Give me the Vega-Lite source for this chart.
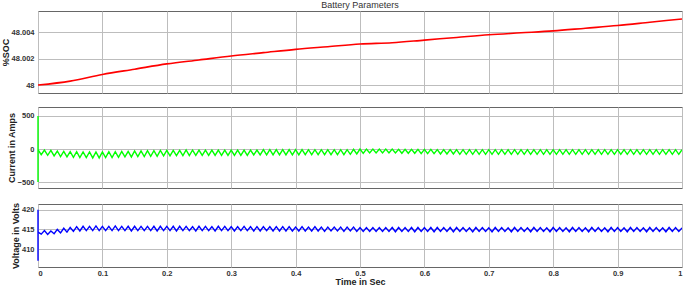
{
"$schema": "https://vega.github.io/schema/vega-lite/v6.json",
"padding": {"left": 0, "top": 0, "right": 2, "bottom": 0},
"background": "white",
"spacing": 12,
"config": {
 "font": "Liberation Sans",
 "view": {"stroke": "#666", "strokeWidth": 1},
 "axis": {"labelFont": "Liberation Sans", "labelFontSize": 7.5, "labelFontWeight": "bold", "labelColor": "#333", "titleFont": "Liberation Sans", "titleFontSize": 9, "titleFontWeight": "bold", "titleColor": "#222", "gridColor": "#bdbdbd", "gridOpacity": 1, "ticks": false, "domain": false, "labelPadding": 4, "titlePadding": 1, "labelOverlap": false},
 "title": {"font": "Liberation Sans", "fontSize": 9, "fontWeight": "normal", "color": "#333", "offset": 1}
},
"datasets": {
 "soc": [
  {"t":0,"s":48.0},{"t":0.05,"s":48.0003},{"t":0.1,"s":48.0008},{"t":0.15,"s":48.0012},{"t":0.2,"s":48.0016},{"t":0.25,"s":48.0019},{"t":0.3,"s":48.0022},{"t":0.35,"s":48.00245},{"t":0.4,"s":48.0027},{"t":0.45,"s":48.0029},{"t":0.5,"s":48.0031},{"t":0.55,"s":48.0032},{"t":0.6,"s":48.0034},{"t":0.65,"s":48.0036},{"t":0.7,"s":48.0038},{"t":0.75,"s":48.00395},{"t":0.8,"s":48.0041},{"t":0.85,"s":48.0043},{"t":0.9,"s":48.0045},{"t":0.95,"s":48.00475},{"t":1,"s":48.005}
 ],
 "spk": [{"t":0,"i1":500,"i2":-500,"v1":420,"v2":407}],
 "sig": [
  {"t":0,"i":-10,"v":414.3},{"t":0.005,"i":-85,"v":413.8},{"t":0.01,"i":-15,"v":414.7},{"t":0.015,"i":-95,"v":413.7},{"t":0.02,"i":-20,"v":414.6},{"t":0.025,"i":-105,"v":413.9},{"t":0.03,"i":-30,"v":415.0},{"t":0.035,"i":-115,"v":414.1},{"t":0.04,"i":-35,"v":415.3},{"t":0.045,"i":-120,"v":414.3},
  {"t":0.05,"i":-40,"v":415.5},{"t":0.055,"i":-125,"v":414.5},{"t":0.06,"i":-40,"v":415.7},{"t":0.065,"i":-130,"v":414.6},{"t":0.07,"i":-45,"v":415.8},{"t":0.075,"i":-130,"v":414.7},{"t":0.08,"i":-45,"v":415.8},{"t":0.085,"i":-135,"v":414.7},{"t":0.09,"i":-45,"v":415.9},{"t":0.095,"i":-135,"v":414.7},
  {"t":0.1,"i":-45,"v":415.8},{"t":0.105,"i":-130,"v":414.7},{"t":0.11,"i":-40,"v":415.8},{"t":0.115,"i":-130,"v":414.7},{"t":0.12,"i":-40,"v":415.9},{"t":0.125,"i":-125,"v":414.7},{"t":0.13,"i":-35,"v":415.8},{"t":0.135,"i":-120,"v":414.7},{"t":0.14,"i":-35,"v":415.8},{"t":0.145,"i":-120,"v":414.6},
  {"t":0.15,"i":-30,"v":415.8},{"t":0.155,"i":-115,"v":414.7},{"t":0.16,"i":-30,"v":415.8},{"t":0.165,"i":-115,"v":414.7},{"t":0.17,"i":-25,"v":415.8},{"t":0.175,"i":-110,"v":414.7},{"t":0.18,"i":-25,"v":415.8},{"t":0.185,"i":-110,"v":414.6},{"t":0.19,"i":-20,"v":415.8},{"t":0.195,"i":-105,"v":414.7},
  {"t":0.2,"i":-20,"v":415.8},{"t":0.205,"i":-105,"v":414.7},{"t":0.21,"i":-20,"v":415.8},{"t":0.215,"i":-100,"v":414.6},{"t":0.22,"i":-20,"v":415.8},{"t":0.225,"i":-100,"v":414.7},{"t":0.23,"i":-15,"v":415.8},{"t":0.235,"i":-100,"v":414.7},{"t":0.24,"i":-15,"v":415.7},{"t":0.245,"i":-95,"v":414.6},
  {"t":0.25,"i":-15,"v":415.8},{"t":0.255,"i":-95,"v":414.7},{"t":0.26,"i":-15,"v":415.8},{"t":0.265,"i":-95,"v":414.7},{"t":0.27,"i":-15,"v":415.7},{"t":0.275,"i":-95,"v":414.6},{"t":0.28,"i":-15,"v":415.8},{"t":0.285,"i":-95,"v":414.7},{"t":0.29,"i":-15,"v":415.8},{"t":0.295,"i":-95,"v":414.7},
  {"t":0.3,"i":-15,"v":415.7},{"t":0.305,"i":-95,"v":414.6},{"t":0.31,"i":-15,"v":415.7},{"t":0.315,"i":-95,"v":414.7},{"t":0.32,"i":-15,"v":415.8},{"t":0.325,"i":-95,"v":414.7},{"t":0.33,"i":-15,"v":415.7},{"t":0.335,"i":-90,"v":414.6},{"t":0.34,"i":-15,"v":415.7},{"t":0.345,"i":-90,"v":414.6},
  {"t":0.35,"i":-10,"v":415.7},{"t":0.355,"i":-90,"v":414.7},{"t":0.36,"i":-10,"v":415.7},{"t":0.365,"i":-90,"v":414.6},{"t":0.37,"i":-10,"v":415.7},{"t":0.375,"i":-90,"v":414.6},{"t":0.38,"i":-10,"v":415.7},{"t":0.385,"i":-90,"v":414.6},{"t":0.39,"i":-10,"v":415.7},{"t":0.395,"i":-90,"v":414.6},
  {"t":0.4,"i":-10,"v":415.6},{"t":0.405,"i":-90,"v":414.6},{"t":0.41,"i":-10,"v":415.7},{"t":0.415,"i":-85,"v":414.6},{"t":0.42,"i":-10,"v":415.6},{"t":0.425,"i":-85,"v":414.6},{"t":0.43,"i":-10,"v":415.7},{"t":0.435,"i":-85,"v":414.6},{"t":0.44,"i":-10,"v":415.6},{"t":0.445,"i":-85,"v":414.5},
  {"t":0.45,"i":-10,"v":415.6},{"t":0.455,"i":-85,"v":414.6},{"t":0.46,"i":-10,"v":415.6},{"t":0.465,"i":-85,"v":414.6},{"t":0.47,"i":-10,"v":415.6},{"t":0.475,"i":-85,"v":414.5},{"t":0.48,"i":-10,"v":415.6},{"t":0.485,"i":-80,"v":414.6},{"t":0.49,"i":-5,"v":415.6},{"t":0.495,"i":-75,"v":414.5},
  {"t":0.5,"i":0,"v":415.5},{"t":0.505,"i":-65,"v":414.5},{"t":0.51,"i":0,"v":415.5},{"t":0.515,"i":-60,"v":414.5},{"t":0.52,"i":0,"v":415.5},{"t":0.525,"i":-60,"v":414.5},{"t":0.53,"i":0,"v":415.5},{"t":0.535,"i":-60,"v":414.5},{"t":0.54,"i":0,"v":415.5},{"t":0.545,"i":-60,"v":414.5},
  {"t":0.55,"i":0,"v":415.5},{"t":0.555,"i":-60,"v":414.4},{"t":0.56,"i":-5,"v":415.5},{"t":0.565,"i":-65,"v":414.5},{"t":0.57,"i":-5,"v":415.5},{"t":0.575,"i":-65,"v":414.5},{"t":0.58,"i":-5,"v":415.5},{"t":0.585,"i":-65,"v":414.4},{"t":0.59,"i":-5,"v":415.5},{"t":0.595,"i":-70,"v":414.5},
  {"t":0.6,"i":-5,"v":415.5},{"t":0.605,"i":-70,"v":414.5},{"t":0.61,"i":-5,"v":415.5},{"t":0.615,"i":-70,"v":414.4},{"t":0.62,"i":-10,"v":415.5},{"t":0.625,"i":-75,"v":414.5},{"t":0.63,"i":-10,"v":415.5},{"t":0.635,"i":-75,"v":414.5},{"t":0.64,"i":-10,"v":415.5},{"t":0.645,"i":-75,"v":414.4},
  {"t":0.65,"i":-10,"v":415.5},{"t":0.655,"i":-80,"v":414.5},{"t":0.66,"i":-10,"v":415.5},{"t":0.665,"i":-80,"v":414.5},{"t":0.67,"i":-10,"v":415.4},{"t":0.675,"i":-80,"v":414.4},{"t":0.68,"i":-10,"v":415.5},{"t":0.685,"i":-80,"v":414.5},{"t":0.69,"i":-10,"v":415.5},{"t":0.695,"i":-80,"v":414.5},
  {"t":0.7,"i":-10,"v":415.4},{"t":0.705,"i":-80,"v":414.4},{"t":0.71,"i":-10,"v":415.5},{"t":0.715,"i":-80,"v":414.5},{"t":0.72,"i":-10,"v":415.5},{"t":0.725,"i":-80,"v":414.5},{"t":0.73,"i":-10,"v":415.4},{"t":0.735,"i":-80,"v":414.4},{"t":0.74,"i":-10,"v":415.5},{"t":0.745,"i":-80,"v":414.5},
  {"t":0.75,"i":-10,"v":415.5},{"t":0.755,"i":-80,"v":414.5},{"t":0.76,"i":-10,"v":415.4},{"t":0.765,"i":-80,"v":414.4},{"t":0.77,"i":-10,"v":415.5},{"t":0.775,"i":-80,"v":414.5},{"t":0.78,"i":-10,"v":415.5},{"t":0.785,"i":-80,"v":414.5},{"t":0.79,"i":-10,"v":415.4},{"t":0.795,"i":-80,"v":414.4},
  {"t":0.8,"i":-10,"v":415.5},{"t":0.805,"i":-80,"v":414.5},{"t":0.81,"i":-10,"v":415.5},{"t":0.815,"i":-80,"v":414.5},{"t":0.82,"i":-10,"v":415.4},{"t":0.825,"i":-80,"v":414.4},{"t":0.83,"i":-10,"v":415.5},{"t":0.835,"i":-80,"v":414.5},{"t":0.84,"i":-10,"v":415.5},{"t":0.845,"i":-80,"v":414.5},
  {"t":0.85,"i":-10,"v":415.4},{"t":0.855,"i":-80,"v":414.4},{"t":0.86,"i":-10,"v":415.5},{"t":0.865,"i":-80,"v":414.5},{"t":0.87,"i":-10,"v":415.5},{"t":0.875,"i":-80,"v":414.5},{"t":0.88,"i":-10,"v":415.4},{"t":0.885,"i":-80,"v":414.4},{"t":0.89,"i":-10,"v":415.5},{"t":0.895,"i":-80,"v":414.5},
  {"t":0.9,"i":-10,"v":415.5},{"t":0.905,"i":-80,"v":414.5},{"t":0.91,"i":-10,"v":415.4},{"t":0.915,"i":-80,"v":414.4},{"t":0.92,"i":-10,"v":415.5},{"t":0.925,"i":-80,"v":414.5},{"t":0.93,"i":-10,"v":415.5},{"t":0.935,"i":-80,"v":414.5},{"t":0.94,"i":-10,"v":415.4},{"t":0.945,"i":-80,"v":414.4},
  {"t":0.95,"i":-10,"v":415.5},{"t":0.955,"i":-80,"v":414.5},{"t":0.96,"i":-10,"v":415.5},{"t":0.965,"i":-80,"v":414.5},{"t":0.97,"i":-10,"v":415.4},{"t":0.975,"i":-80,"v":414.4},{"t":0.98,"i":-10,"v":415.5},{"t":0.985,"i":-80,"v":414.5},{"t":0.99,"i":-10,"v":415.5},{"t":0.995,"i":-80,"v":414.5},
  {"t":1,"i":-10,"v":415.4}
 ]
},
"vconcat": [
 {
  "width": 644, "height": 82,
  "title": {"text": "Battery Parameters"},
  "data": {"name": "soc"},
  "mark": {"type": "line", "color": "#ff0000", "strokeWidth": 1.6, "interpolate": "monotone", "clip": true},
  "encoding": {
   "x": {"field": "t", "type": "quantitative", "scale": {"domain": [0, 1], "nice": false}, "axis": {"values": [0,0.1,0.2,0.3,0.4,0.5,0.6,0.7,0.8,0.9,1], "labels": false, "title": null, "grid": true}},
   "y": {"field": "s", "type": "quantitative", "scale": {"domain": [47.9994, 48.0056], "nice": false, "zero": false}, "axis": {"values": [48, 48.002, 48.004], "format": ".6~g", "title": "%SOC", "grid": true}}
  }
 },
 {
  "width": 644, "height": 81,
  "layer": [
   {
    "data": {"name": "sig"},
    "mark": {"type": "line", "color": "#00ff00", "strokeWidth": 1.4, "clip": true},
    "encoding": {
     "x": {"field": "t", "type": "quantitative", "scale": {"domain": [0, 1], "nice": false}, "axis": {"values": [0,0.1,0.2,0.3,0.4,0.5,0.6,0.7,0.8,0.9,1], "labels": false, "title": null, "grid": true}},
     "y": {"field": "i", "type": "quantitative", "scale": {"domain": [-590, 636], "nice": false, "zero": false}, "axis": {"values": [-500, 0, 500], "title": "Current in Amps", "grid": true}}
    }
   },
   {
    "data": {"name": "spk"},
    "mark": {"type": "rule", "color": "#00ff00", "strokeWidth": 1.4},
    "encoding": {
     "x": {"field": "t", "type": "quantitative", "axis": {"values": [0,0.1,0.2,0.3,0.4,0.5,0.6,0.7,0.8,0.9,1], "labels": false, "title": null, "grid": true}},
     "y": {"field": "i1", "type": "quantitative", "axis": {"values": [-500, 0, 500], "title": "Current in Amps", "grid": true}},
     "y2": {"field": "i2"}
    }
   }
  ]
 },
 {
  "width": 644, "height": 63,
  "layer": [
   {
    "data": {"name": "sig"},
    "mark": {"type": "line", "color": "#0000ff", "strokeWidth": 1.4, "clip": true},
    "encoding": {
     "x": {"field": "t", "type": "quantitative", "scale": {"domain": [0, 1], "nice": false}, "axis": {"values": [0,0.1,0.2,0.3,0.4,0.5,0.6,0.7,0.8,0.9,1], "format": "~g", "title": "Time in Sec", "grid": true, "labelPadding": 2, "titlePadding": 1, "labelFlush": true}},
     "y": {"field": "v", "type": "quantitative", "scale": {"domain": [405.4, 421.5], "nice": false, "zero": false}, "axis": {"values": [410, 415, 420], "title": "Voltage in Volts", "grid": true}}
    }
   },
   {
    "data": {"name": "spk"},
    "mark": {"type": "rule", "color": "#0000ff", "strokeWidth": 1.4},
    "encoding": {
     "x": {"field": "t", "type": "quantitative", "axis": {"values": [0,0.1,0.2,0.3,0.4,0.5,0.6,0.7,0.8,0.9,1], "format": "~g", "title": "Time in Sec", "grid": true, "labelPadding": 2, "titlePadding": 1, "labelFlush": true}},
     "y": {"field": "v1", "type": "quantitative", "axis": {"values": [410, 415, 420], "title": "Voltage in Volts", "grid": true}},
     "y2": {"field": "v2"}
    }
   }
  ]
 }
]
}
